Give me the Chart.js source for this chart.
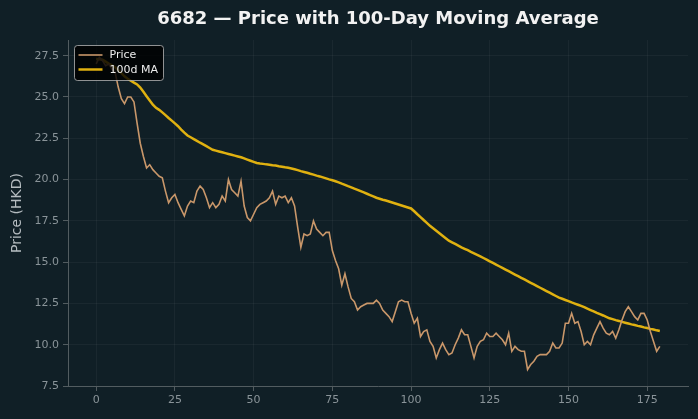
<html>
<head>
<meta charset="utf-8">
<script src="https://cdn.jsdelivr.net/npm/chart.js"></script>
<style>
  html, body { margin: 0; padding: 0; background: #101f26; }
  #wrap { width: 698px; height: 419px; }
</style>
</head>
<body>
<div id="wrap"><canvas id="myChart" width="698" height="419"></canvas></div>
<script>
// Data
const TITLE = '6682 — Price with 100-Day Moving Average';
const Y_TITLE = 'Price (HKD)';
const X_TICKS = [0, 25, 50, 75, 100, 125, 150, 175];
const Y_TICKS = [7.5, 10.0, 12.5, 15.0, 17.5, 20.0, 22.5, 25.0, 27.5];

const price = [
  27.0, 27.4, 27.2, 26.9, 27.0, 26.7, 26.5, 25.6, 24.9, 24.6,
  25.0, 25.0, 24.7, 23.4, 22.2, 21.4, 20.7, 20.9, 20.6, 20.4,
  20.2, 20.1, 19.3, 18.6, 18.9, 19.1, 18.6, 18.2, 17.8, 18.4,
  18.7, 18.6, 19.3, 19.6, 19.4, 18.9, 18.3, 18.6, 18.3, 18.5,
  19.0, 18.7, 20.0, 19.4, 19.2, 19.0, 19.9, 18.4, 17.7, 17.5,
  17.9, 18.3, 18.5, 18.6, 18.7, 18.9, 19.3, 18.5, 19.0, 18.9,
  19.0, 18.6, 18.9, 18.4, 17.1, 15.9, 16.7, 16.6, 16.7, 17.5,
  17.0, 16.8, 16.6, 16.8, 16.8, 15.7, 15.1, 14.6, 13.6, 14.3,
  13.5, 12.8, 12.6, 12.1, 12.3, 12.4, 12.5, 12.5, 12.5, 12.7,
  12.5, 12.1, 11.9, 11.7, 11.4, 12.0, 12.6, 12.7, 12.6, 12.6,
  11.9, 11.3, 11.6, 10.5, 10.8, 10.9, 10.2, 9.9, 9.2, 9.7,
  10.1, 9.7, 9.4, 9.5, 10.0, 10.4, 10.9, 10.6, 10.6, 9.9,
  9.2, 9.9, 10.2, 10.3, 10.7, 10.5, 10.5, 10.7, 10.5, 10.3,
  10.0, 10.7, 9.6, 9.9, 9.7, 9.6, 9.6, 8.5, 8.8, 9.0,
  9.3, 9.4, 9.4, 9.4, 9.6, 10.1, 9.8, 9.8, 10.1, 11.3,
  11.3, 11.9, 11.3, 11.4, 10.8, 10.0, 10.2, 10.0, 10.6, 11.0,
  11.4, 11.0, 10.7, 10.6, 10.8, 10.4, 10.9, 11.5, 12.0, 12.3,
  12.0, 11.7, 11.5, 11.9, 11.9, 11.5, 10.8, 10.2, 9.6, 9.9
];

const ma100 = [
  27.30, 27.28, 27.25, 27.14, 27.02, 26.91, 26.80, 26.63, 26.44, 26.25,
  26.10, 25.98, 25.87, 25.76, 25.57, 25.31, 25.05, 24.79, 24.53, 24.34,
  24.22, 24.07, 23.90, 23.73, 23.57, 23.40, 23.23, 23.03, 22.84, 22.67,
  22.56, 22.45, 22.34, 22.23, 22.13, 22.02, 21.91, 21.80, 21.75, 21.70,
  21.65, 21.60, 21.55, 21.50, 21.45, 21.40, 21.35, 21.28, 21.21, 21.14,
  21.07, 21.00, 20.97, 20.95, 20.92, 20.90, 20.87, 20.85, 20.81, 20.78,
  20.74, 20.71, 20.67, 20.62, 20.57, 20.51, 20.46, 20.41, 20.35, 20.30,
  20.24, 20.19, 20.13, 20.07, 20.01, 19.96, 19.90, 19.83, 19.75, 19.68,
  19.60, 19.53, 19.45, 19.38, 19.30, 19.22, 19.14, 19.06, 18.98, 18.90,
  18.84, 18.78, 18.73, 18.67, 18.61, 18.55, 18.49, 18.43, 18.37, 18.31,
  18.25, 18.08, 17.90, 17.73, 17.55, 17.38, 17.20, 17.05, 16.90, 16.75,
  16.60, 16.45, 16.30, 16.20, 16.10, 16.00, 15.90, 15.81, 15.72, 15.62,
  15.53, 15.44, 15.35, 15.25, 15.15, 15.05, 14.95, 14.85, 14.75, 14.65,
  14.55, 14.45, 14.35, 14.25, 14.15, 14.05, 13.95, 13.85, 13.75, 13.65,
  13.55, 13.45, 13.35, 13.25, 13.15, 13.05, 12.95, 12.85, 12.78, 12.71,
  12.64, 12.56, 12.49, 12.42, 12.35, 12.27, 12.18, 12.10, 12.02, 11.93,
  11.85, 11.77, 11.68, 11.60, 11.55, 11.49, 11.44, 11.38, 11.33, 11.28,
  11.23, 11.19, 11.14, 11.10, 11.05, 11.01, 10.96, 10.92, 10.87, 10.83
];

const days = price.map((v, i) => i);

// Colours
const BG = '#101f26';
const PRICE_COLOR = '#c9976a';
const MA_COLOR = '#e0b110';
const TICK_COLOR = '#8a9499';
const SPINE_COLOR = '#525c60';
const GRID_COLOR = 'rgba(255,255,255,0.045)';
const FONT = 'DejaVu Sans';

const toPoints = (arr) => arr.map((v, i) => ({ x: days[i], y: v }));

// background + title + inner legend
const decor = {
  id: 'decor',
  beforeDraw(chart) {
    const c = chart.ctx;
    c.save();
    c.fillStyle = BG;
    c.fillRect(0, 0, chart.width, chart.height);
    c.restore();
  },
  afterDatasetsDraw(chart) {
    const c = chart.ctx;
    const a = chart.chartArea;
    c.save();
    // title
    c.fillStyle = '#f2f2f2';
    c.font = 'bold 18px ' + FONT;
    c.textAlign = 'center';
    c.textBaseline = 'middle';
    c.fillText(TITLE, (a.left + a.right) / 2, 19);
    // y title
    c.save();
    c.translate(17, (a.top + a.bottom) / 2);
    c.rotate(-Math.PI / 2);
    c.fillStyle = '#b5bcc0';
    c.font = '14px ' + FONT;
    c.fillText(Y_TITLE, 0, 0);
    c.restore();
    // legend box
    const bx = a.left + 6.5, by = a.top + 5.5, bw = 89, bh = 35;
    c.beginPath();
    c.roundRect(bx, by, bw, bh, 3);
    c.fillStyle = 'rgba(0,0,0,0.82)';
    c.fill();
    c.strokeStyle = 'rgba(190,190,190,0.75)';
    c.lineWidth = 1;
    c.stroke();
    c.lineWidth = 1.6;
    c.strokeStyle = PRICE_COLOR;
    c.beginPath(); c.moveTo(bx + 4, by + 9.5); c.lineTo(bx + 28, by + 9.5); c.stroke();
    c.lineWidth = 2.5;
    c.strokeStyle = MA_COLOR;
    c.beginPath(); c.moveTo(bx + 4, by + 24); c.lineTo(bx + 28, by + 24); c.stroke();
    c.fillStyle = '#ececec';
    c.font = '11px ' + FONT;
    c.textAlign = 'left';
    c.fillText('Price', bx + 35, by + 10);
    c.fillText('100d MA', bx + 35, by + 24.5);
    c.restore();
  }
};

const ctx = document.getElementById('myChart');
const chart = new Chart(ctx, {
  type: 'line',
  data: {
    datasets: [
      {
        label: 'Price',
        data: toPoints(price),
        borderColor: PRICE_COLOR,
        borderWidth: 1.6,
        pointRadius: 0,
        tension: 0
      },
      {
        label: '100d MA',
        data: toPoints(ma100),
        borderColor: MA_COLOR,
        borderWidth: 2.5,
        pointRadius: 0,
        tension: 0
      }
    ]
  },
  options: {
    responsive: false,
    animation: false,
    layout: { padding: { top: 40, right: 10, left: 0, bottom: 0 } },
    plugins: {
      legend: { display: false },
      title: { display: false },
      tooltip: { enabled: false }
    },
    scales: {
      x: {
        type: 'linear',
        min: -8.95,
        max: 187.95,
        afterBuildTicks: (s) => { s.ticks = X_TICKS.map(v => ({ value: v })); },
        afterFit: (s) => { s.height = 33; },
        ticks: {
          color: TICK_COLOR,
          font: { family: FONT, size: 11 },
          padding: 3,
          maxRotation: 0
        },
        grid: { color: GRID_COLOR, tickColor: SPINE_COLOR, tickLength: 5 },
        border: { color: SPINE_COLOR, width: 1 }
      },
      y: {
        min: 7.5,
        max: 28.45,
        afterBuildTicks: (s) => { s.ticks = Y_TICKS.map(v => ({ value: v })); },
        afterFit: (s) => { s.width = 68; },
        ticks: {
          color: TICK_COLOR,
          font: { family: FONT, size: 11 },
          padding: 4,
          callback: (v) => v.toFixed(1)
        },
        grid: { color: GRID_COLOR, tickColor: SPINE_COLOR, tickLength: 5 },
        border: { color: SPINE_COLOR, width: 1 }
      }
    }
  },
  plugins: [decor]
});
</script>
</body>
</html>
